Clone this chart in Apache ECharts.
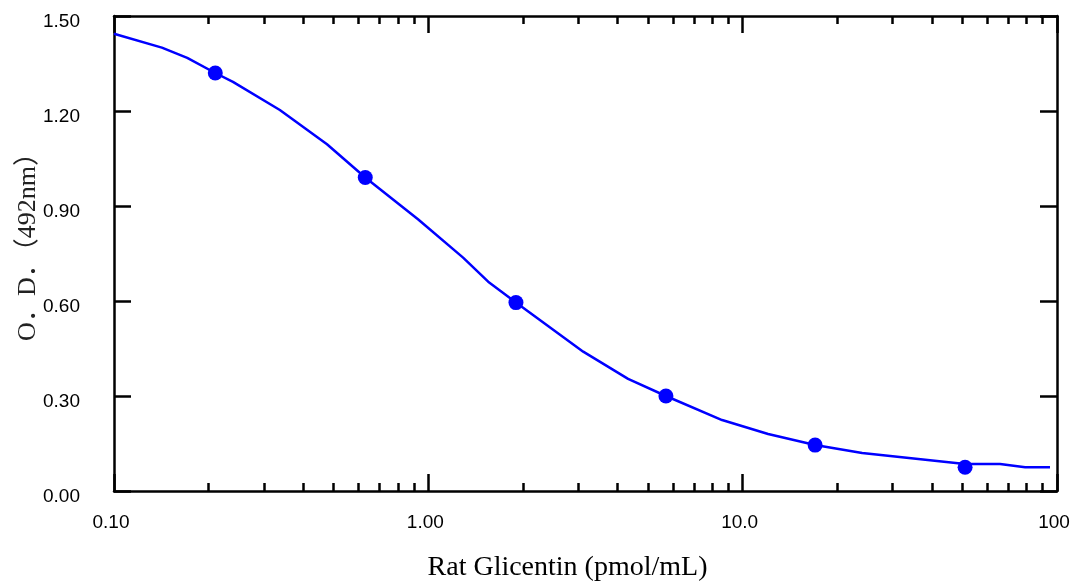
<!DOCTYPE html>
<html><head><meta charset="utf-8">
<script src="https://cdn.jsdelivr.net/npm/echarts@6/dist/echarts.min.js"></script>
<style>html,body{margin:0;padding:0;background:#fff}#c{width:1072px;height:581px}</style>
</head><body><div id="c"></div>
<script>
// Fitted standard curve
const curveX = [0.1, 0.142, 0.171, 0.21, 0.239, 0.337, 0.476, 0.63, 0.927, 1.29, 1.55, 1.9, 3.11, 4.32, 5.7, 8.6, 12.05, 17, 24.0, 51, 65.9, 79.2, 95];
const curveY = [1.444, 1.400, 1.368, 1.32, 1.292, 1.203, 1.095, 0.99, 0.858, 0.737, 0.661, 0.595, 0.440, 0.354, 0.30, 0.224, 0.180, 0.145, 0.120, 0.085, 0.085, 0.075, 0.075];
// Measured standards
const pointX = [0.21, 0.63, 1.9, 5.7, 17, 51];
const pointY = [1.32, 0.99, 0.595, 0.30, 0.145, 0.075];
// Axis ticks
const xMajorTicks = [0.1, 1, 10, 100];
const xTickLabels = ['0.10', '1.00', '10.0', '100'];
const xMinorTicks = [0.2,0.3,0.4,0.5,0.6,0.7,0.8,0.9, 2,3,4,5,6,7,8,9, 20,30,40,50,60,70,80,90];
const yTickLabels = ['0.00', '0.30', '0.60', '0.90', '1.20', '1.50'];
const xName = 'Rat Glicentin (pmol/mL)';
const yName = 'O．D．（492nm）';

const pair = (xs, ys) => xs.map((x, i) => [x, ys[i]]);
const lineStyle = { color: '#000', width: 2.5 };
const tickStyle = { color: '#000', width: 2.5 };
const labelFont = { fontFamily: '"Liberation Sans", Arial, sans-serif', fontSize: 19, color: '#000' };

function xAxisDef(pos, major, showLabel) {
  return {
    type: 'log', logBase: 10, min: 0.1, max: 100, position: pos, gridIndex: 0,
    axisLine: { show: major, lineStyle },
    axisTick: { show: true, inside: true, length: major ? 17 : 8, lineStyle: tickStyle,
      customValues: major ? xMajorTicks : xMinorTicks },
    axisLabel: showLabel ? Object.assign({
      show: true, margin: 22, padding: [0, 6, 0, 0],
      customValues: xMajorTicks,
      formatter: v => {
        let best = 0, d = Infinity;
        xMajorTicks.forEach((t, i) => { const dd = Math.abs(Math.log10(t) - Math.log10(v)); if (dd < d) { d = dd; best = i; } });
        return xTickLabels[best];
      }
    }, labelFont) : { show: false },
    splitLine: { show: false }, minorTick: { show: false }, minorSplitLine: { show: false },
    name: showLabel ? xName : '', nameLocation: 'middle', nameGap: 63, nameMoveOverlap: false,
    nameTextStyle: { fontFamily: '"Liberation Serif", "Times New Roman", serif', fontSize: 28, color: '#000', padding: [0, 36, 0, 0] }
  };
}

const chart = echarts.init(document.getElementById('c'), null, { renderer: 'canvas' });
chart.setOption({
  animation: false,
  backgroundColor: '#fff',
  grid: { left: 114, right: 15, top: 16, bottom: 90, containLabel: false, outerBoundsMode: 'none' },
  xAxis: [
    xAxisDef('bottom', true, true),
    xAxisDef('bottom', false, false),
    xAxisDef('top', true, false),
    xAxisDef('top', false, false)
  ],
  yAxis: [
    {
      type: 'value', min: 0, max: 1.5, interval: 0.3, position: 'left',
      axisLine: { show: true, lineStyle },
      axisTick: { show: true, inside: true, length: 17, lineStyle: tickStyle },
      axisLabel: Object.assign({ margin: 34, verticalAlign: 'top', lineHeight: 12,
        formatter: v => yTickLabels[Math.round(v / 0.3)] }, labelFont),
      splitLine: { show: false },
      name: yName, nameLocation: 'middle', nameGap: 73, nameMoveOverlap: false,
      nameTextStyle: { fontFamily: '"Liberation Serif", "Noto Sans CJK JP", serif', fontSize: 26, color: '#222', padding: [0, 0, 0, 26] }
    },
    {
      type: 'value', min: 0, max: 1.5, interval: 0.3, position: 'right',
      axisLine: { show: true, lineStyle },
      axisTick: { show: true, inside: true, length: 17, lineStyle: tickStyle },
      axisLabel: { show: false }, splitLine: { show: false }
    }
  ],
  series: [
    {
      type: 'line', xAxisIndex: 0, yAxisIndex: 0, data: pair(curveX, curveY),
      showSymbol: false, symbol: 'none', smooth: false,
      lineStyle: { color: '#0000ff', width: 2.5 }, z: 3
    },
    {
      type: 'scatter', xAxisIndex: 0, yAxisIndex: 0, data: pair(pointX, pointY),
      symbol: 'circle', symbolSize: 15, itemStyle: { color: '#0000ff', opacity: 1 }, z: 4
    }
  ]
});
</script>
</body></html>
